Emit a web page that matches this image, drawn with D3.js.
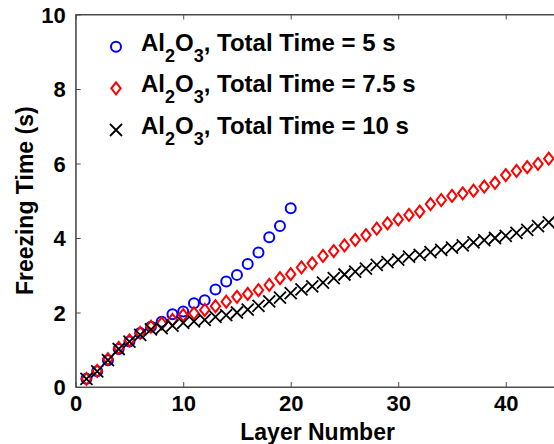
<!DOCTYPE html>
<html><head><meta charset="utf-8">
<script src="https://cdn.jsdelivr.net/npm/d3@7"></script>
<style>
html,body{margin:0;padding:0;background:#fff;overflow:hidden}
svg{display:block}
text{font-family:"Liberation Sans",Arial,sans-serif;font-weight:bold;fill:#000}
</style></head><body>
<svg id="c" width="554" height="444"></svg>
<script>
const seriesNames = ["Total Time = 5 s", "Total Time = 7.5 s", "Total Time = 10 s"];
const layers5 = d3.range(1, 21);
const values5 = [0.22,0.42,0.72,1.02,1.22,1.45,1.62,1.75,1.95,2.03,2.25,2.33,2.62,2.83,3.01,3.30,3.61,4.02,4.32,4.80];
const layers75 = d3.range(1, 45);
const values75 = [0.22,0.43,0.75,1.05,1.25,1.45,1.62,1.71,1.80,1.93,1.98,2.07,2.17,2.29,2.42,2.50,2.60,2.74,2.92,3.03,3.21,3.32,3.52,3.65,3.80,3.95,4.08,4.25,4.39,4.50,4.62,4.71,4.91,5.02,5.13,5.20,5.27,5.38,5.48,5.69,5.80,5.90,5.99,6.13];
const layers10 = d3.range(1, 45);
const values10 = [0.22,0.42,0.72,1.02,1.22,1.40,1.55,1.58,1.65,1.72,1.76,1.80,1.88,1.93,2.00,2.08,2.18,2.30,2.40,2.52,2.62,2.70,2.80,2.92,3.02,3.10,3.18,3.28,3.35,3.42,3.50,3.55,3.62,3.68,3.74,3.80,3.88,3.94,4.00,4.06,4.14,4.22,4.32,4.42];
const xTicks = [0,10,20,30,40];
const yTicks = [0,2,4,6,8,10];

const svg = d3.select("#c");
const L = 75.7, R = 559.5, T = 14.5, B = 387;
const x = d3.scaleLinear().domain([0,45]).range([L,R]);
const y = d3.scaleLinear().domain([0,10]).range([B,T]);

svg.append("rect").attr("x",L).attr("y",T).attr("width",R-L).attr("height",B-T)
  .attr("fill","none").attr("stroke","#4d4d4d").attr("stroke-width",1);

const axCol = "#4d4d4d";
const xb = svg.append("g").attr("transform",`translate(0,${B})`)
  .call(d3.axisBottom(x).tickValues(xTicks).tickSizeInner(-5).tickSizeOuter(0).tickPadding(10));
const xt = svg.append("g").attr("transform",`translate(0,${T})`)
  .call(d3.axisTop(x).tickValues(xTicks).tickSizeInner(-5).tickSizeOuter(0).tickFormat(""));
const yl = svg.append("g").attr("transform",`translate(${L},0)`)
  .call(d3.axisLeft(y).tickValues(yTicks).tickSizeInner(-5).tickSizeOuter(0).tickPadding(10));
[xb,xt,yl].forEach(g=>{
  g.select(".domain").attr("stroke",axCol);
  g.selectAll(".tick line").attr("stroke",axCol);
  g.selectAll("text").style("font-family",'"Liberation Sans",Arial,sans-serif')
    .style("font-weight","bold").style("font-size","22px").attr("fill","#000");
});
xb.selectAll("text").attr("dy","0.62em");
yl.selectAll("text").attr("dy","0.36em");

svg.append("text").attr("x",(L+R)/2).attr("y",440).attr("text-anchor","middle")
  .style("font-size","23px").text("Layer Number");
svg.append("text").attr("transform",`translate(33,${(T+B)/2}) rotate(-90)`)
  .attr("text-anchor","middle").style("font-size","23px").text("Freezing Time (s)");

function circle(g, cx, cy){ g.append("circle").attr("cx",cx).attr("cy",cy).attr("r",5)
  .attr("fill","none").attr("stroke","#0000ff").attr("stroke-width",2); }
function diamond(g, cx, cy){ g.append("path")
  .attr("d",`M${cx},${cy-6}L${cx+4.7},${cy}L${cx},${cy+6}L${cx-4.7},${cy}Z`)
  .attr("fill","none").attr("stroke","#ff0000").attr("stroke-width",2); }
function cross(g, cx, cy){ const s=6; g.append("path")
  .attr("d",`M${cx-s},${cy-s}L${cx+s},${cy+s}M${cx-s},${cy+s}L${cx+s},${cy-s}`)
  .attr("fill","none").attr("stroke","#000").attr("stroke-width",1.8); }

const plot = svg.append("g");
layers5.forEach((n,i)=>circle(plot, x(n), y(values5[i])));
layers75.forEach((n,i)=>diamond(plot, x(n), y(values75[i])));
layers10.forEach((n,i)=>cross(plot, x(n), y(values10[i])));

const leg = svg.append("g");
const rows = [46.7, 88.3, 130];
const fns = [circle, diamond, cross];
rows.forEach((ry,i)=>{
  fns[i](leg, 116, ry);
  const t = leg.append("text").attr("x",141).attr("y",ry+4).style("font-size","24px");
  t.append("tspan").text("Al");
  t.append("tspan").attr("dy",11).style("font-size","18px").text("2");
  t.append("tspan").attr("dy",-11).text("O");
  t.append("tspan").attr("dy",11).style("font-size","18px").text("3");
  t.append("tspan").attr("dy",-11).text(", " + seriesNames[i]);
});
</script>
</body></html>
